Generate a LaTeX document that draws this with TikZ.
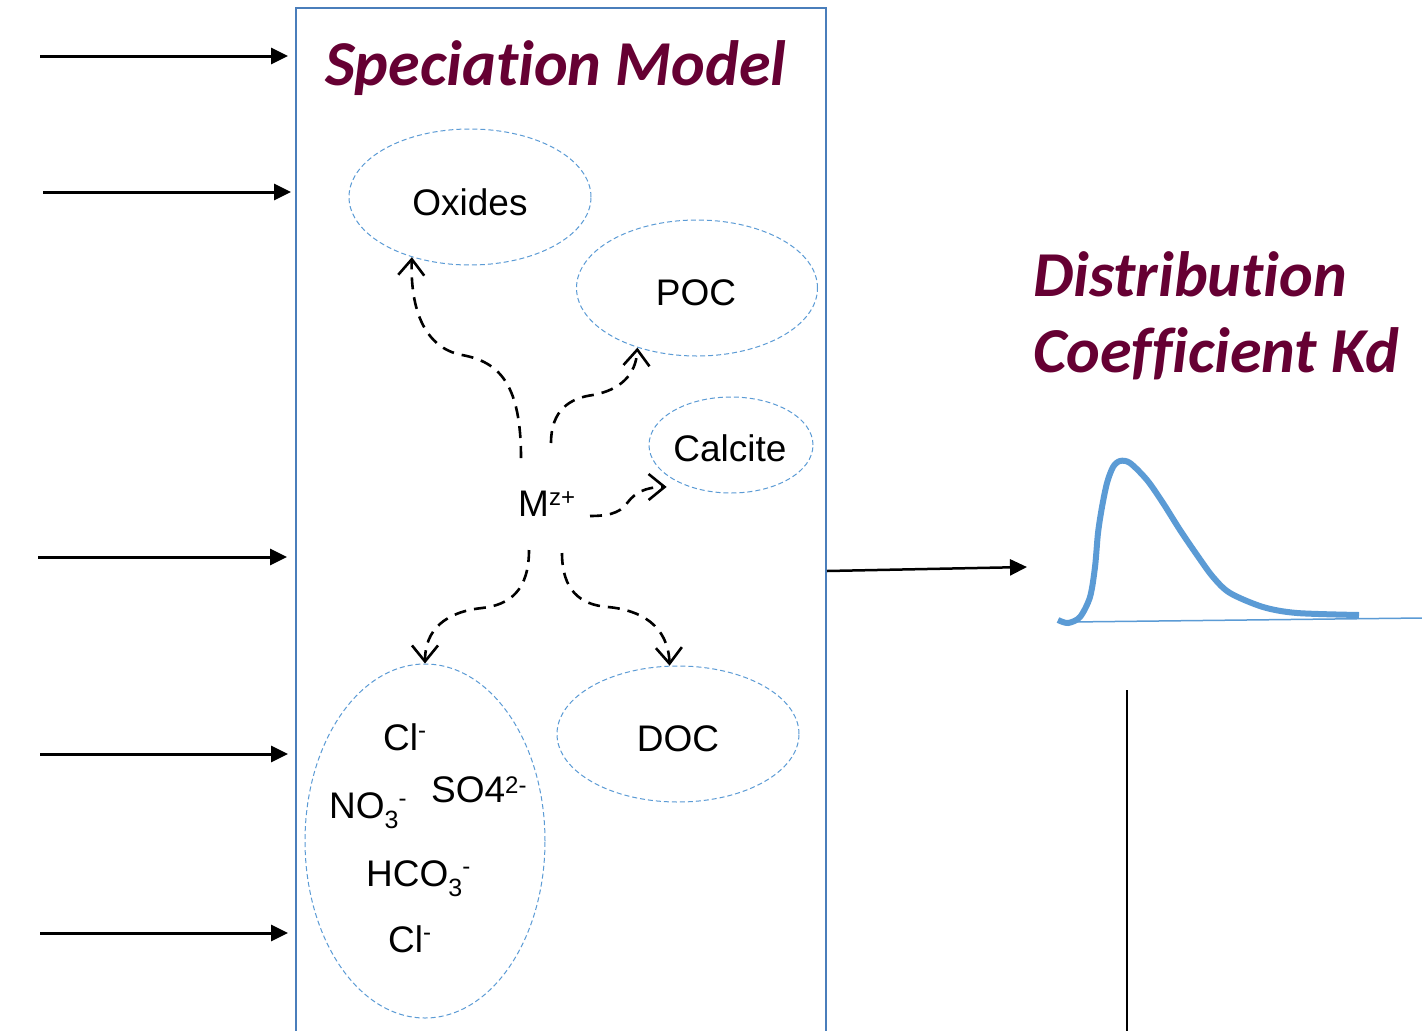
\documentclass[tikz,border=0pt]{standalone}
\usepackage{fontspec}
\setmainfont{Liberation Sans}
\newfontfamily\titlefont[Ligatures=NoCommon]{Carlito}
\usetikzlibrary{arrows.meta,shapes.geometric}
\definecolor{boxblue}{HTML}{4A7EBB}
\definecolor{ellblue}{HTML}{5B9BD5}
\definecolor{titlered}{HTML}{660033}
\newcommand\mysup[2][11]{\raisebox{#1pt}{\fontsize{24}{24}\selectfont #2}}
\newcommand\mysub[1]{\raisebox{-10pt}{\fontsize{25}{25}\selectfont #1}}
\begin{document}
\begin{tikzpicture}[x=1pt,y=-1pt,
  ell/.style={draw=ellblue, ellipse, dash pattern=on 5pt off 3pt, line width=1pt, inner sep=0pt},
  lbl/.style={font=\fontsize{37}{40}\selectfont, anchor=base, inner sep=0pt},
  ttl/.style={anchor=base west, inner sep=0pt, text=titlered, font=\titlefont\bfseries\itshape\fontsize{64}{70}\selectfont},
  inarrow/.style={line width=3pt, -{Triangle[length=17pt,width=16pt]}},
  flow/.style={line width=2.6pt, dash pattern=on 12pt off 8pt, -{Straight Barb[length=16pt,width=26pt]}}]
\useasboundingbox (0,0) rectangle (1422,1031);
\fill[white] (0,0) rectangle (1422,1031);
% main box
\node[draw=boxblue, line width=2pt, minimum width=530, minimum height=1040, anchor=north west, inner sep=0pt] (box) at (295,7) {};
\node[ttl] (title) at (325,85) {Speciation Model};
% ellipses
\node[ell, minimum width=242, minimum height=136] (ox) at (470,197) {};
\node[ell, minimum width=241, minimum height=136] (poc) at (697,288) {};
\node[ell, minimum width=164, minimum height=96] (cal) at (731,445) {};
\node[ell, minimum width=242, minimum height=136] (doc) at (678,734) {};
\node[ell, minimum width=240, minimum height=354] (ion) at (425,841) {};
% labels
\node[lbl] (oxt) at (470,215) {Oxides};
\node[lbl] (poct) at (696,305) {POC};
\node[lbl] (calt) at (730,461) {Calcite};
\node[lbl] (doct) at (678,751) {DOC};
\node[lbl, anchor=base west] (m) at (518,516) {M\mysup{z+}};
\node[lbl, anchor=base west] (cl1) at (383,750) {Cl\mysup[12]{-}};
\node[lbl, anchor=base west] (no3) at (329,818) {NO\mysub{3}\mysup[12]{-}};
\node[lbl, anchor=base west] (so4) at (431,802) {SO4\mysup[9]{2-}};
\node[lbl, anchor=base west] (hco3) at (366,886) {HCO\mysub{3}\mysup[12]{-}};
\node[lbl, anchor=base west] (cl2) at (388,952) {Cl\mysup[12]{-}};
% flows from M
\coordinate (m1) at (521,458);
\coordinate (m2) at (551,443);
\coordinate (m3) at (590,516);
\coordinate (m4) at (529,550);
\coordinate (m5) at (562,553);
\path (cal.213) ++(-9,6) coordinate (calin);
\draw[flow] (m1) .. controls (521,385) and (500,362) .. (462,355) .. controls (425,348) and (410,310) .. (ox.226);
\draw[flow] (m2) .. controls (551,410) and (570,398) .. (593,395) .. controls (620,390) and (636,375) .. (poc.225);
\draw[flow] (m3) .. controls (615,516) and (622,510) .. (628,502) .. controls (635,493) and (645,487) .. (calin);
\draw[flow] (m4) .. controls (529,590) and (510,605) .. (482,608) .. controls (445,612) and (425,630) .. (ion.north);
\draw[flow] (m5) .. controls (562,590) and (580,605) .. (608,607) .. controls (640,610) and (668,625) .. (doc.97);
% input arrows
\coordinate (s1) at (40,56);  \coordinate (e1) at (288,56);
\coordinate (s2) at (43,192); \coordinate (e2) at (291,192);
\coordinate (s3) at (38,557); \coordinate (e3) at (287,557);
\coordinate (s4) at (40,754); \coordinate (e4) at (288,754);
\coordinate (s5) at (40,933); \coordinate (e5) at (288,933);
\foreach \i in {1,...,5} {\draw[inarrow] (s\i) -- (e\i);}
% output arrow
\coordinate (o1) at (827,571);
\coordinate (o2) at (1027,567);
\draw[line width=2.5pt, -{Triangle[length=17pt,width=16pt]}] (o1) -- (o2);
% right titles
\node[ttl] (dist1) at (1033,296) {Distribution};
\node[ttl] (dist2) at (1033,372) {Coefficient Kd};
% distribution curve
\draw[ellblue, line width=1.5pt] (1070,622) -- (1422,618);
\draw[ellblue, line width=6pt] plot[smooth, tension=0.5] coordinates {(1058,620) (1068,623) (1080,617) (1090,597) (1095,567) (1098,533) (1102,507) (1107,483) (1113,467) (1120,461) (1130,463) (1147,480) (1163,503) (1180,530) (1197,555) (1213,577) (1230,593) (1263,607) (1297,613) (1359,615)};
% vertical line
\coordinate (v1) at (1127,690);
\coordinate (v2) at (1127,1031);
\draw[line width=1.5pt] (v1) -- (v2);
\end{tikzpicture}
\end{document}
